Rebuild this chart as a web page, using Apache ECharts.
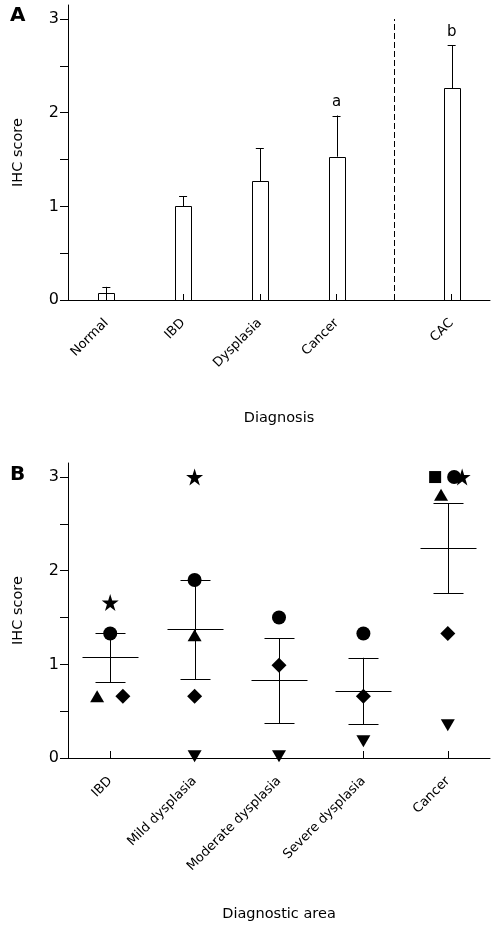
<!DOCTYPE html>
<html><head><meta charset="utf-8">
<script src="https://cdn.jsdelivr.net/npm/echarts@6/dist/echarts.min.js"></script>
<style>html,body{margin:0;padding:0;background:#fff}#c{width:499px;height:930px}</style>
</head><body><div id="c"></div>
<script>
// ---- Panel A data ----
const catsA = ['Normal', 'IBD', 'Dysplasia', 'Cancer', 'CAC'];
const posA = [1, 2, 3, 4, 5.5];
const meanA = [0.07, 1.0, 1.27, 1.53, 2.26];
const errA = [0.14, 1.11, 1.62, 1.97, 2.72];
const sigA = ['', '', '', 'a', 'b'];
const dividerA = 4.75;
// ---- Panel B data ----
const catsB = ['IBD', 'Mild dysplasia', 'Moderate dysplasia', 'Severe dysplasia', 'Cancer'];
const posB = [0, 1, 2, 3, 4];
const meanB = [1.08, 1.38, 0.83, 0.72, 2.24];
const upperB = [1.33, 1.90, 1.28, 1.07, 2.72];
const lowerB = [0.81, 0.84, 0.37, 0.36, 1.76];
const circleB = [[0, 1.33], [1, 1.90], [2, 1.5], [3, 1.33], [4.075, 3]];
const starB = [[0, 1.66], [1, 3], [4.17, 3]];
const triB = [[-0.155, 0.66], [1, 1.31], [3.92, 2.81]];
const diamondB = [[0.15, 0.66], [1, 0.66], [2, 0.99], [3, 0.66], [4, 1.33]];
const downTriB = [[1, 0.02], [2, 0.02], [3, 0.18], [4, 0.35]];
const squareB = [[3.85, 3]];
// ---- Axis ticks ----
const yTicks = [0, 0.5, 1, 1.5, 2, 2.5, 3];
const yLabels = [0, 1, 2, 3];

const FONT = '"DejaVu Sans", sans-serif';
const STAR = 'path://M50,0 L61.2,34.5 L97.6,34.5 L68.2,55.9 L79.4,90.5 L50,69.1 L20.6,90.5 L31.8,55.9 L2.4,34.5 L38.8,34.5 Z';
const DIAMOND = 'path://M50,0 L100,50 L50,100 L0,50 Z';

const chart = echarts.init(document.getElementById('c'), null, {renderer: 'canvas'});

function yAxis(gridIndex) {
  return {
    type: 'value', gridIndex, min: 0, max: 3.15,
    name: 'IHC score', nameLocation: 'middle', nameGap: 42, nameRotate: 90,
    nameTextStyle: {fontFamily: FONT, fontSize: 14.5, color: '#000'},
    axisLine: {show: true, onZero: false, lineStyle: {color: '#000', width: 1}},
    axisTick: {show: true, customValues: yTicks, length: 8, lineStyle: {color: '#000'}},
    axisLabel: {customValues: yLabels, margin: 9, fontFamily: FONT, fontSize: 16, color: '#000'},
    splitLine: {show: false}
  };
}

const option = {
  animation: false,
  backgroundColor: '#fff',
  title: [
    {text: 'A', left: 10, top: 6, padding: 0, textStyle: {fontFamily: FONT, fontSize: 20, fontWeight: 'bold', color: '#000'}},
    {text: 'B', left: 10, top: 465, padding: 0, textStyle: {fontFamily: FONT, fontSize: 20, fontWeight: 'bold', color: '#000'}}
  ],
  grid: [
    {left: 68, top: 5, width: 422, height: 295, outerBoundsMode: 'none'},
    {left: 68, top: 463, width: 422, height: 295, outerBoundsMode: 'none'}
  ],
  xAxis: [
    {
      type: 'value', gridIndex: 0, min: 0.5, max: 6,
      name: 'Diagnosis', nameLocation: 'middle', nameGap: 111,
      nameTextStyle: {fontFamily: FONT, fontSize: 14.5, color: '#000'},
      axisLine: {show: true, onZero: false, lineStyle: {color: '#000', width: 1}},
      axisTick: {show: true, inside: true, length: 6, customValues: posA, lineStyle: {color: '#000'}},
      axisLabel: {customValues: posA, rotate: 45, margin: 21, fontFamily: FONT, fontSize: 13, color: '#000',
        formatter: v => catsA[posA.indexOf(v)] || ''},
      splitLine: {show: false}
    },
    {
      type: 'value', gridIndex: 1, min: -0.5, max: 4.5,
      name: 'Diagnostic area', nameLocation: 'middle', nameGap: 149,
      nameTextStyle: {fontFamily: FONT, fontSize: 14.5, color: '#000'},
      axisLine: {show: true, onZero: false, lineStyle: {color: '#000', width: 1}},
      axisTick: {show: true, inside: true, length: 7, customValues: posB, lineStyle: {color: '#000'}},
      axisLabel: {customValues: posB, rotate: 45, margin: 21, fontFamily: FONT, fontSize: 13, color: '#000',
        formatter: v => catsB[posB.indexOf(v)] || ''},
      splitLine: {show: false}
    }
  ],
  yAxis: [yAxis(0), yAxis(1)],
  series: [
    {
      type: 'custom', xAxisIndex: 0, yAxisIndex: 0, z: 3,
      data: posA.map((x, i) => [x, meanA[i], errA[i]]),
      renderItem(params, api) {
        const x = api.value(0), top = api.value(1), err = api.value(2);
        const p0 = api.coord([x, 0]);
        const pt = api.coord([x, top]);
        const pe = api.coord([x, err]);
        const half = 8;
        const sig = sigA[params.dataIndex];
        const children = [
          {type: 'rect', shape: {x: Math.round(pt[0] - half) + 0.5, y: Math.round(pt[1]) + 0.5, width: 2 * half, height: Math.round(p0[1]) - Math.round(pt[1])},
            style: {fill: 'none', stroke: '#000', lineWidth: 1}},
          {type: 'line', shape: {x1: Math.round(pt[0]) + 0.5, y1: pt[1], x2: Math.round(pt[0]) + 0.5, y2: pe[1]}, style: {stroke: '#000', lineWidth: 1}},
          {type: 'line', shape: {x1: pe[0] - 4, y1: Math.round(pe[1]) + 0.5, x2: pe[0] + 4, y2: Math.round(pe[1]) + 0.5}, style: {stroke: '#000', lineWidth: 1}}
        ];
        if (sig) {
          children.push({type: 'text', style: {text: sig, x: pe[0], y: pe[1] - 6, align: 'center', verticalAlign: 'bottom',
            font: '15px ' + FONT, fill: '#000'}});
        }
        return {type: 'group', children};
      }
    },
    {
      type: 'custom', xAxisIndex: 0, yAxisIndex: 0, silent: true,
      data: [[dividerA, 0, 3]],
      renderItem(params, api) {
        const a = api.coord([api.value(0), api.value(1)]);
        const b = api.coord([api.value(0), api.value(2)]);
        const x = Math.round(a[0]) + 0.5;
        return {type: 'line', shape: {x1: x, y1: a[1], x2: x, y2: b[1]},
          style: {stroke: '#000', lineWidth: 1, lineDash: [6, 3]}};
      }
    },
    {
      type: 'custom', xAxisIndex: 1, yAxisIndex: 1, z: 3,
      data: posB.map((x, i) => [x, meanB[i], upperB[i], lowerB[i]]),
      renderItem(params, api) {
        const x = api.value(0);
        const pm = api.coord([x, api.value(1)]);
        const pu = api.coord([x, api.value(2)]);
        const pl = api.coord([x, api.value(3)]);
        const cx = Math.round(pm[0]) + 0.5;
        const r = v => Math.round(v) + 0.5;
        const s = {stroke: '#000', lineWidth: 1};
        return {type: 'group', children: [
          {type: 'line', shape: {x1: cx - 28, y1: r(pm[1]), x2: cx + 28, y2: r(pm[1])}, style: s},
          {type: 'line', shape: {x1: cx, y1: pu[1], x2: cx, y2: pl[1]}, style: s},
          {type: 'line', shape: {x1: cx - 15, y1: r(pu[1]), x2: cx + 15, y2: r(pu[1])}, style: s},
          {type: 'line', shape: {x1: cx - 15, y1: r(pl[1]), x2: cx + 15, y2: r(pl[1])}, style: s}
        ]};
      }
    },
    {type: 'scatter', xAxisIndex: 1, yAxisIndex: 1, z: 4, data: circleB, symbol: 'circle', symbolSize: 14, itemStyle: {color: '#000', opacity: 1}},
    {type: 'scatter', xAxisIndex: 1, yAxisIndex: 1, z: 4, data: starB, symbol: STAR, symbolSize: 17, itemStyle: {color: '#000', opacity: 1}},
    {type: 'scatter', xAxisIndex: 1, yAxisIndex: 1, z: 4, data: triB, symbol: 'triangle', symbolSize: [14, 12], itemStyle: {color: '#000', opacity: 1}},
    {type: 'scatter', xAxisIndex: 1, yAxisIndex: 1, z: 4, data: diamondB, symbol: DIAMOND, symbolSize: 15, itemStyle: {color: '#000', opacity: 1}},
    {type: 'scatter', xAxisIndex: 1, yAxisIndex: 1, z: 4, data: downTriB, symbol: 'triangle', symbolRotate: 180, symbolSize: [14, 12], itemStyle: {color: '#000', opacity: 1}},
    {type: 'scatter', xAxisIndex: 1, yAxisIndex: 1, z: 4, data: squareB, symbol: 'rect', symbolSize: 12, itemStyle: {color: '#000', opacity: 1}}
  ]
};
chart.setOption(option);
</script>
</body></html>
